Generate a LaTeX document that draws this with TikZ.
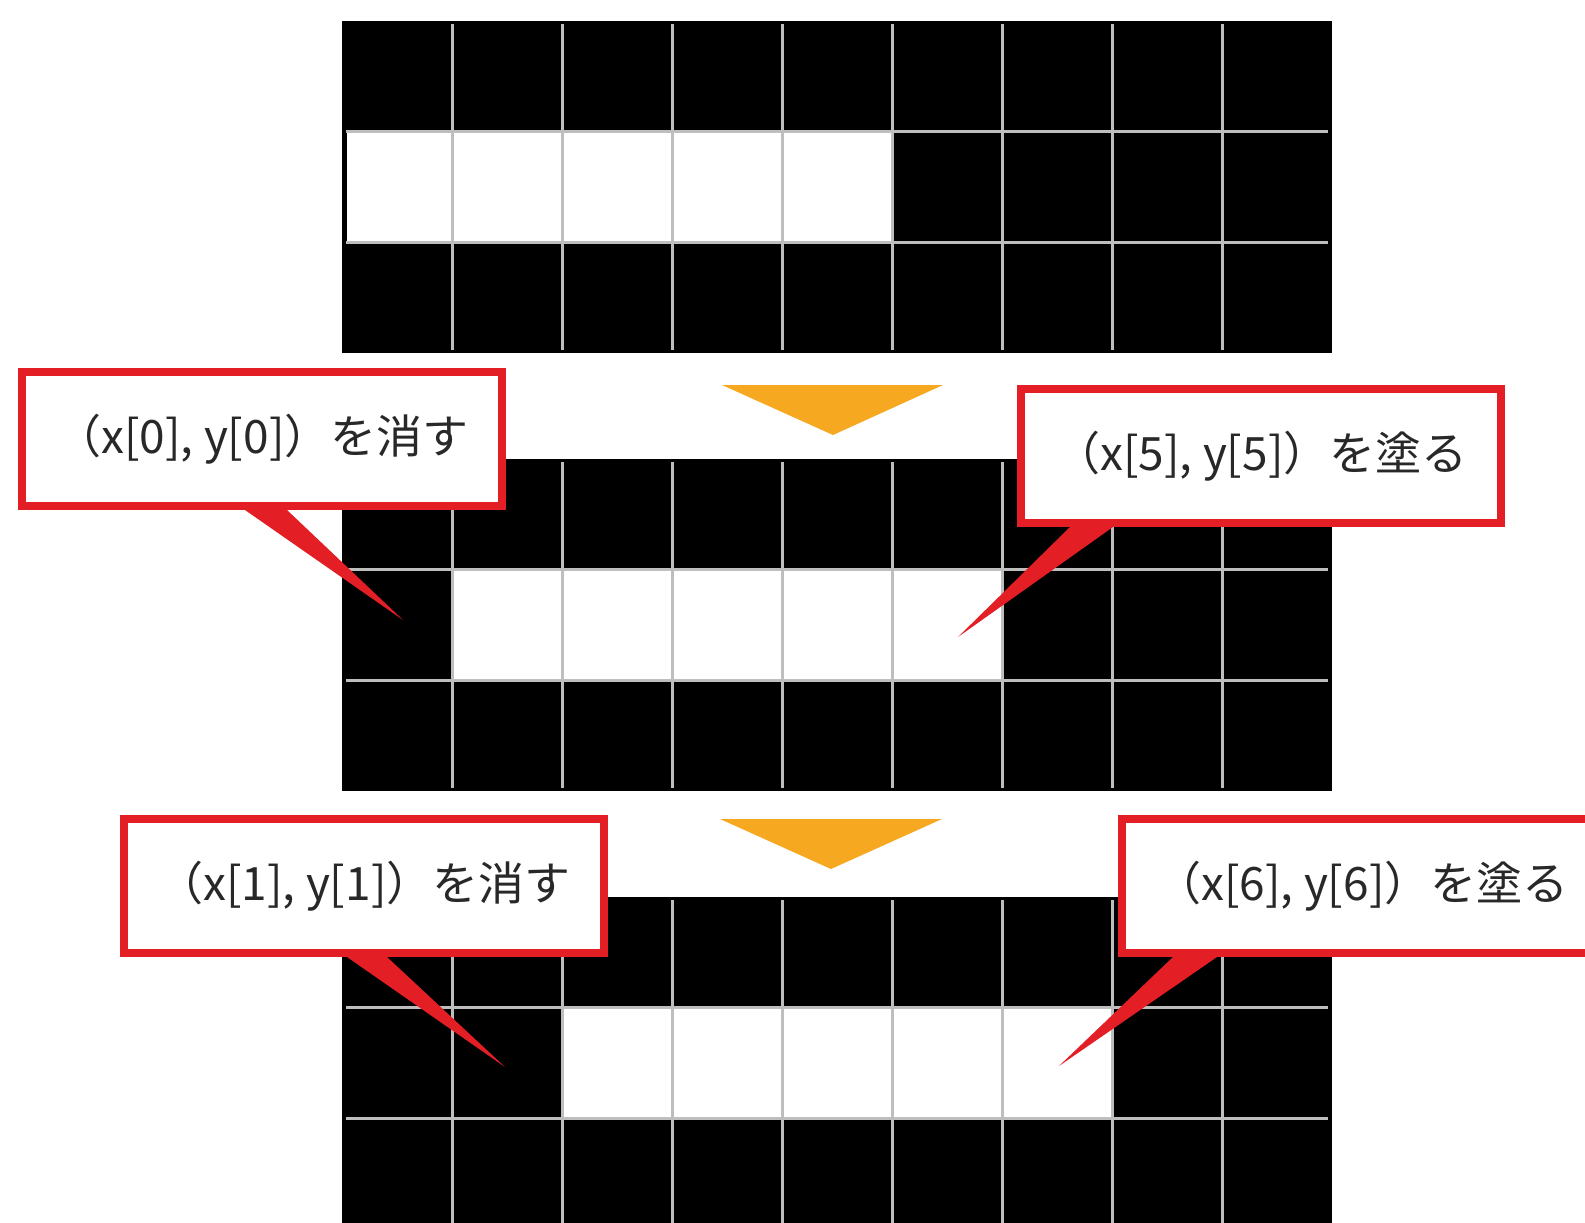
\documentclass[tikz,border=0pt]{standalone}
\usepackage{fontspec}
\newfontfamily\jp{Noto Sans CJK JP}
\definecolor{calloutred}{RGB}{227,30,36}
\definecolor{arroworange}{RGB}{246,168,33}
\definecolor{gridgray}{RGB}{190,190,190}
\definecolor{txtgray}{RGB}{40,40,40}
\newcommand{\mygrid}[2]{%
  \fill[black] (342,#1) rectangle (1332,{#1+332});
  \foreach \c in {0,...,4} {
    \fill[white] ({342+110*(#2+\c)},{#1+110.7}) rectangle ++(110,110.7);
  }
  \draw[black, line width=5pt] (344.5,{#1+2.5}) rectangle (1329.5,{#1+329.5});
  \foreach \c in {1,...,8} {
    \draw[gridline] ({342+110*\c},{#1+3}) -- ({342+110*\c},{#1+329});
  }
  \foreach \r in {1,2} {
    \draw[gridline] (346,{#1+110.7*\r}) -- (1328,{#1+110.7*\r});
  }
}
\begin{document}
\begin{tikzpicture}[x=1pt,y=-1pt,
  callout/.style={draw=calloutred, line width=8pt, outer sep=4pt, fill=white,
    minimum width=480pt, minimum height=134pt, inner sep=0pt,
    font=\jp\fontsize{46}{54}\selectfont, text=txtgray},
  gridline/.style={draw=gridgray, line width=3pt},
  pointer/.style={fill=calloutred},
  stepmark/.style={fill=arroworange}]
\useasboundingbox (0,0) rectangle (1585,1223);
\clip (0,0) rectangle (1585,1223);
\fill[white] (0,0) rectangle (1585,1223);

% grids
\mygrid{21}{0}
\mygrid{459}{1}
\mygrid{897}{2}

% step arrows
\coordinate (a1l) at (722,385); \coordinate (a1r) at (943,385); \coordinate (a1t) at (833,435);
\fill[stepmark] (a1l) -- (a1r) -- (a1t) -- cycle;
\coordinate (a2l) at (720,819); \coordinate (a2r) at (942,819); \coordinate (a2t) at (831,869);
\fill[stepmark] (a2l) -- (a2r) -- (a2t) -- cycle;

% callouts
\node[callout] (c1) at (262,439) {（x[0], y[0]）を消す};
\node[callout] (c2) at (1261,456) {（x[5], y[5]）を塗る};
\node[callout] (c3) at (364,886) {（x[1], y[1]）を消す};
\node[callout] (c4) at (1362,886) {（x[6], y[6]）を塗る};

\coordinate (t1) at (403,620);
\coordinate (t2) at (958,637);
\coordinate (t3) at (505,1067);
\coordinate (t4) at (1059,1066);

\fill[pointer] ([xshift=227pt]c1.south west) -- ([xshift=269pt]c1.south west) -- (t1) -- cycle;
\fill[pointer] ([xshift=53pt]c2.south west) -- ([xshift=96pt]c2.south west) -- (t2) -- cycle;
\fill[pointer] ([xshift=227pt]c3.south west) -- ([xshift=267pt]c3.south west) -- (t3) -- cycle;
\fill[pointer] ([xshift=55pt]c4.south west) -- ([xshift=99pt]c4.south west) -- (t4) -- cycle;
\end{tikzpicture}
\end{document}
